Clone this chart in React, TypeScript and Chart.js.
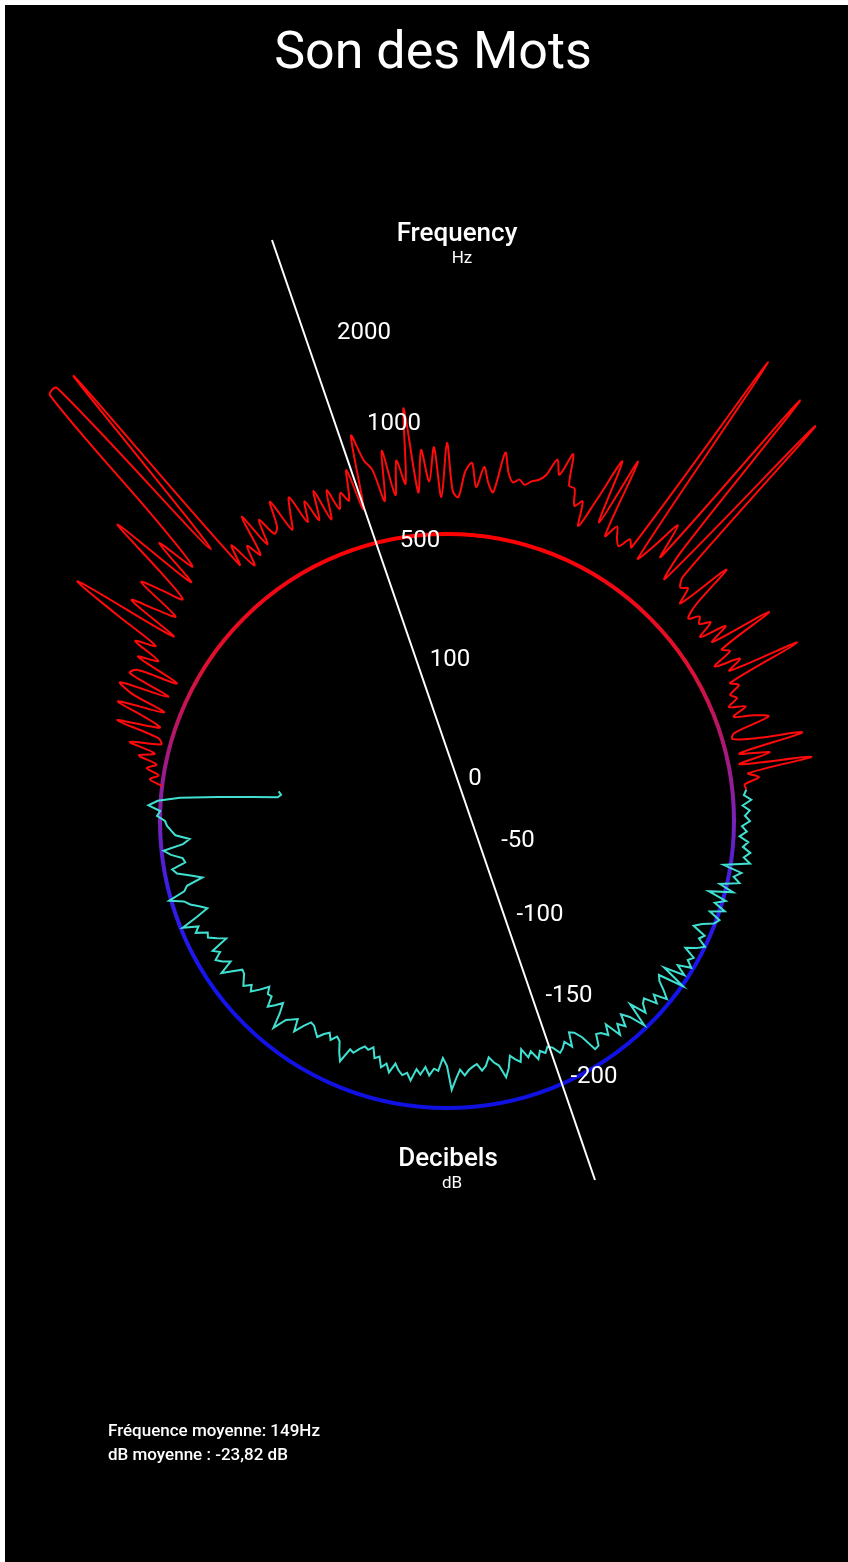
import React, { useEffect, useRef } from 'react';
import { Chart, registerables } from 'chart.js';

Chart.register(...registerables);

// ---------- data ----------
const spokeCount = 360; // one spoke per degree, clockwise from 12 o'clock
const baselineRadius = 287; // radius of the reference circle (radial units)

// Frequency trace (red), one value per degree starting at 277° and running clockwise to 84°
const frequencyStartDeg = 277;
const frequencyTrace = [
  287, 300, 292, 305, 296, 315, 300, 327, 296, 300, // 277-286
  345, 302, 320, 350, 303, 340, 355, 305, 350, 345, // 287-296
  303, 350, 330, 360, 340, 390, 440, 330, 385, 360, // 297-306
  340, 388, 366, 345, 380, 443, 350, 400, 360, 420, // 307-316
  582, 583, 360, 581, 330, 350, 320, 340, 325, 367, // 317-326
  330, 355, 335, 340, 365, 330, 345, 360, 330, 350, // 327-336
  327, 356, 323, 352, 330, 345, 335, 365, 323, 397, // 337-346
  370, 359, 326, 376, 330, 364, 340, 415, 330, 372, // 347-356
  340, 374, 324, 378, 330, 324, 350, 359, 335, 356, // 357-6
  340, 332, 373, 354, 345, 349, 345, 350, 353, 360, // 7-16
  378, 364, 388, 357, 356, 340, 347, 323, 355, 400, // 17-26
  335, 407, 326, 340, 330, 324, 336, 330, 560, 325, // 27-36
  345, 375, 340, 549, 357, 326, 540, 340, 330, 335, // 37-46
  319, 376, 330, 315, 325, 320, 330, 313, 340, 320, // 47-56
  384, 324, 330, 309, 335, 320, 393, 315, 322, 310, // 57-66
  315, 304, 320, 305, 325, 338, 300, 297, 320, 366, // 67-76
  300, 330, 298, 370, 305, 315, 300, 301, // 77-84
];

// Decibel trace (cyan), one value per degree starting at 84° and running clockwise to 280°
const decibelStartDeg = 84;
const decibelTrace = [
  301, 298, 305, 296, 303, 298, 303, 295, 300, 293, // 84-93
  302, 297, 305, 299, 306, 280, 299, 292, 299, 280, // 94-103
  295, 271, 290, 280, 292, 278, 290, 286, 275, 268, // 104-113
  282, 278, 287, 280, 270, 282, 278, 285, 272, 283, // 114-123
  262, 288, 262, 266, 275, 283, 270, 278, 265, 268, // 124-133
  276, 259, 284, 268, 260, 272, 265, 275, 258, 268, // 134-143
  262, 260, 271, 272, 255, 247, 244, 258, 250, 255, // 144-153
  258, 250, 247, 252, 248, 255, 245, 250, 240, 252, // 154-163
  248, 243, 255, 263, 250, 246, 240, 248, 252, 245, // 164-173
  247, 250, 255, 249, 258, 269, 245, 237, 250, 248, // 174-183
  255, 247, 255, 250, 262, 255, 258, 254, 248, 258, // 184-193
  250, 255, 245, 248, 238, 242, 240, 244, 250, 248, // 194-203
  263, 255, 245, 242, 248, 242, 246, 252, 248, 244, // 204-213
  243, 250, 260, 248, 252, 256, 270, 255, 245, 252, // 214-223
  258, 248, 249, 243, 252, 260, 255, 262, 258, 254, // 224-233
  253, 262, 272, 258, 265, 270, 262, 268, 250, 258, // 234-243
  266, 264, 275, 270, 285, 268, 255, 262, 270, 275, // 244-253
  289, 272, 268, 251, 262, 275, 279, 265, 267, 278, // 254-263
  285, 265, 258, 272, 276, 280, 282, 290, 287, 299, // 264-273
  290, 268, 230, 197, 171, 168, 171, // 274-280
];

const frequencyTickLabels = ['2000', '1000', '500', '100', '0'];
const decibelTickLabels = ['-50', '-100', '-150', '-200'];
const frequencyTitle = 'Frequency';
const frequencyUnit = 'Hz';
const decibelTitle = 'Decibels';
const decibelUnit = 'dB';
const chartTitle = 'Son des Mots';
const statLines = ['Fréquence moyenne: 149Hz', 'dB moyenne : -23,82 dB'];

// ---------- layout (pixel offsets from the circle centre, not data) ----------
const axisStart = { dx: -175, dy: -581 };
const axisEnd = { dx: 148, dy: 359 };
const frequencyTickPos = [
  { dx: -83, dy: -488 },
  { dx: -53, dy: -397 },
  { dx: -27, dy: -280 },
  { dx: 3, dy: -161 },
  { dx: 28, dy: -42 },
];
const decibelTickPos = [
  { dx: 71, dy: 20 },
  { dx: 93, dy: 94 },
  { dx: 122, dy: 175 },
  { dx: 147, dy: 256 },
];

function spread(trace: number[], startDeg: number): (number | null)[] {
  const out: (number | null)[] = new Array(spokeCount).fill(null);
  trace.forEach((v, i) => {
    out[(startDeg + i) % spokeCount] = v;
  });
  return out;
}

const axisPlugin = {
  id: 'diagonalAxis',
  afterDatasetsDraw(chart: any) {
    const s = chart.scales.r;
    const cx = s.xCenter;
    const cy = s.yCenter;
    const ctx = chart.ctx;
    ctx.save();
    ctx.strokeStyle = '#ffffff';
    ctx.lineWidth = 2;
    ctx.beginPath();
    ctx.moveTo(cx + axisStart.dx, cy + axisStart.dy);
    ctx.lineTo(cx + axisEnd.dx, cy + axisEnd.dy);
    ctx.stroke();

    ctx.fillStyle = '#ffffff';
    ctx.textAlign = 'center';
    ctx.textBaseline = 'middle';
    ctx.font = '400 24px Roboto';
    frequencyTickLabels.forEach((t, i) => {
      const p = frequencyTickPos[i];
      ctx.fillText(t, cx + p.dx, cy + p.dy);
    });
    decibelTickLabels.forEach((t, i) => {
      const p = decibelTickPos[i];
      ctx.fillText(t, cx + p.dx, cy + p.dy);
    });

    ctx.font = '500 26px Roboto';
    ctx.fillText(frequencyTitle, cx + 10, cy - 587);
    ctx.fillText(decibelTitle, cx + 1, cy + 338);
    ctx.font = '400 17px Roboto';
    ctx.fillText(frequencyUnit, cx + 15, cy - 562);
    ctx.fillText(decibelUnit, cx + 5, cy + 363);
    ctx.restore();
  },
};

export default function App() {
  const canvasRef = useRef<HTMLCanvasElement | null>(null);

  useEffect(() => {
    const canvas = canvasRef.current;
    if (!canvas) return;
    const labels = Array.from({ length: spokeCount }, (_, i) => `${i}°`);

    const ringColor = (c: any) => {
      if (!c.tick || c.tick.value !== baselineRadius) return 'rgba(0,0,0,0)';
      const chart = c.chart;
      const s = chart.scales.r;
      const rad = s.getDistanceFromCenterForValue(baselineRadius);
      const g = chart.ctx.createLinearGradient(0, s.yCenter - rad, 0, s.yCenter + rad);
      g.addColorStop(0, '#ff0000');
      g.addColorStop(0.22, '#e0102e');
      g.addColorStop(0.36, '#b01870');
      g.addColorStop(0.5, '#7a22b8');
      g.addColorStop(0.62, '#3a1ee6');
      g.addColorStop(0.78, '#1414ee');
      g.addColorStop(1, '#1010e0');
      return g;
    };

    const chart = new Chart(canvas, {
      type: 'radar',
      data: {
        labels,
        datasets: [
          {
            label: 'Frequency',
            data: spread(frequencyTrace, frequencyStartDeg),
            borderColor: '#ff0a0a',
            borderWidth: 2,
            fill: false,
            pointRadius: 0,
            pointHoverRadius: 0,
            spanGaps: false,
            tension: 0.3,
          },
          {
            label: 'Decibels',
            data: spread(decibelTrace, decibelStartDeg),
            borderColor: '#40e0d0',
            borderWidth: 2,
            fill: false,
            pointRadius: 0,
            pointHoverRadius: 0,
            spanGaps: false,
            tension: 0,
          },
        ],
      },
      options: {
        responsive: false,
        animation: false,
        events: [],
        clip: false as any,
        layout: { padding: { left: 42, right: 1, top: 416, bottom: 341 } },
        plugins: {
          legend: { display: false },
          title: { display: false },
          tooltip: { enabled: false },
        },
        scales: {
          r: {
            min: 0,
            max: 400,
            startAngle: 0,
            angleLines: { display: false },
            pointLabels: { display: false },
            ticks: { display: false },
            grid: { circular: true, lineWidth: 4, color: ringColor as any },
            afterBuildTicks: (scale: any) => {
              scale.ticks = [{ value: 0 }, { value: baselineRadius }];
            },
          },
        },
      },
      plugins: [axisPlugin],
    });

    return () => chart.destroy();
  }, []);

  return (
    <div
      style={{
        position: 'fixed',
        left: 5,
        top: 5,
        right: 0,
        bottom: 0,
        background: '#000',
        overflow: 'hidden',
      }}
    >
      <canvas ref={canvasRef} width={843} height={1557} style={{ display: 'block' }} />
      <div
        style={{
          position: 'absolute',
          left: 428,
          top: 20,
          transform: 'translateX(-50%)',
          color: '#fff',
          font: '400 52px Roboto',
          lineHeight: '52px',
          whiteSpace: 'nowrap',
        }}
      >
        {chartTitle}
      </div>
      <div
        style={{
          position: 'absolute',
          left: 103,
          top: 1413,
          color: '#fff',
          font: '500 17px Roboto',
          lineHeight: '24px',
          whiteSpace: 'nowrap',
        }}
      >
        {statLines.map((t) => (
          <div key={t}>{t}</div>
        ))}
      </div>
    </div>
  );
}
